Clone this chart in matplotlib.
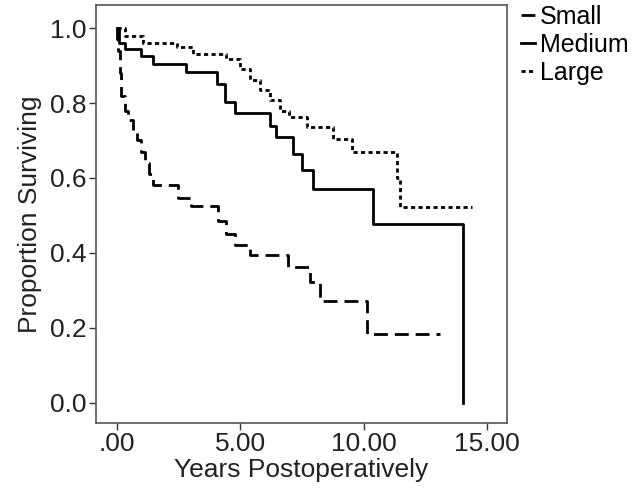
import matplotlib
matplotlib.use("Agg")
import matplotlib.pyplot as plt
import matplotlib.ticker as ticker

plt.rcParams['font.family'] = ['Liberation Sans', 'DejaVu Sans']

# Kaplan-Meier estimates (time in years, survival proportion)
small_t = [0, 0.03, 0.08, 0.15, 0.2, 0.35, 0.47, 0.65, 0.81, 1.0, 1.15, 1.3, 1.48,
           2.49, 3.0, 4.1, 4.45, 4.79, 5.4, 6.94, 7.83, 8.23, 10.12, 13.09]
small_s = [1.0, 0.97, 0.94, 0.88, 0.82, 0.78, 0.754, 0.72, 0.70, 0.67, 0.64, 0.61, 0.58,
           0.545, 0.526, 0.486, 0.45, 0.42, 0.393, 0.361, 0.321, 0.272, 0.183, 0.183]

medium_t = [0, 0.1, 0.35, 1.0, 1.47, 2.83, 4.05, 4.38, 4.79, 6.2, 6.45, 7.15, 7.49,
            7.96, 10.39, 14.03]
medium_s = [1.0, 0.96, 0.945, 0.925, 0.905, 0.883, 0.852, 0.803, 0.774, 0.738, 0.709,
            0.665, 0.62, 0.571, 0.477, 0.0]

large_t = [0, 0.34, 1.07, 2.43, 3.1, 4.45, 5.0, 5.4, 5.8, 6.2, 6.6, 7.0, 7.69, 8.77,
           9.51, 11.34, 11.47, 14.37]
large_s = [1.0, 0.98, 0.96, 0.95, 0.932, 0.917, 0.89, 0.862, 0.835, 0.808, 0.78, 0.763,
           0.737, 0.705, 0.669, 0.60, 0.522, 0.522]

x_ticks = [0, 5, 10, 15]
y_ticks = [0.0, 0.2, 0.4, 0.6, 0.8, 1.0]

fig = plt.figure(figsize=(6.39, 4.95), dpi=100)
ax = fig.add_axes([0.151, 0.146, 0.642, 0.844])

ax.step(small_t, small_s, where='post', color='black', lw=2.0,
        linestyle=(0, (5, 2.5)), label='Small')
ax.step(medium_t, medium_s, where='post', color='black', lw=2.0,
        linestyle='-', label='Medium')
ax.step(large_t, large_s, where='post', color='black', lw=2.0,
        linestyle=(0, (1.5, 1.2)), label='Large')

ax.set_xlim(-0.81, 15.79)
ax.set_ylim(-0.054, 1.062)
ax.set_xticks(x_ticks)
ax.set_yticks(y_ticks)
ax.xaxis.set_major_formatter(ticker.FuncFormatter(
    lambda v, pos: f'{v:.2f}'.lstrip('0') if v < 1 else f'{v:.2f}'))
ax.yaxis.set_major_formatter(ticker.FormatStrFormatter('%.1f'))
ax.tick_params(axis='both', direction='out', length=5, width=1, labelsize=19,
               color='#333333', labelcolor='#222222', pad=2)

for side in ['left', 'bottom', 'top', 'right']:
    ax.spines[side].set_color('#555555')
    ax.spines[side].set_linewidth(1.2)

ax.set_xlabel('Years Postoperatively', fontsize=19, labelpad=1, color='#222222')
ax.set_ylabel('Proportion Surviving', fontsize=19, labelpad=6, color='#222222')

fig.legend(loc='upper left', bbox_to_anchor=(0.8, 1.01), frameon=False,
           fontsize=18, handlelength=0.55, handletextpad=0.2, labelspacing=0.15,
           borderaxespad=0)

fig.savefig('out.png', dpi=100)
